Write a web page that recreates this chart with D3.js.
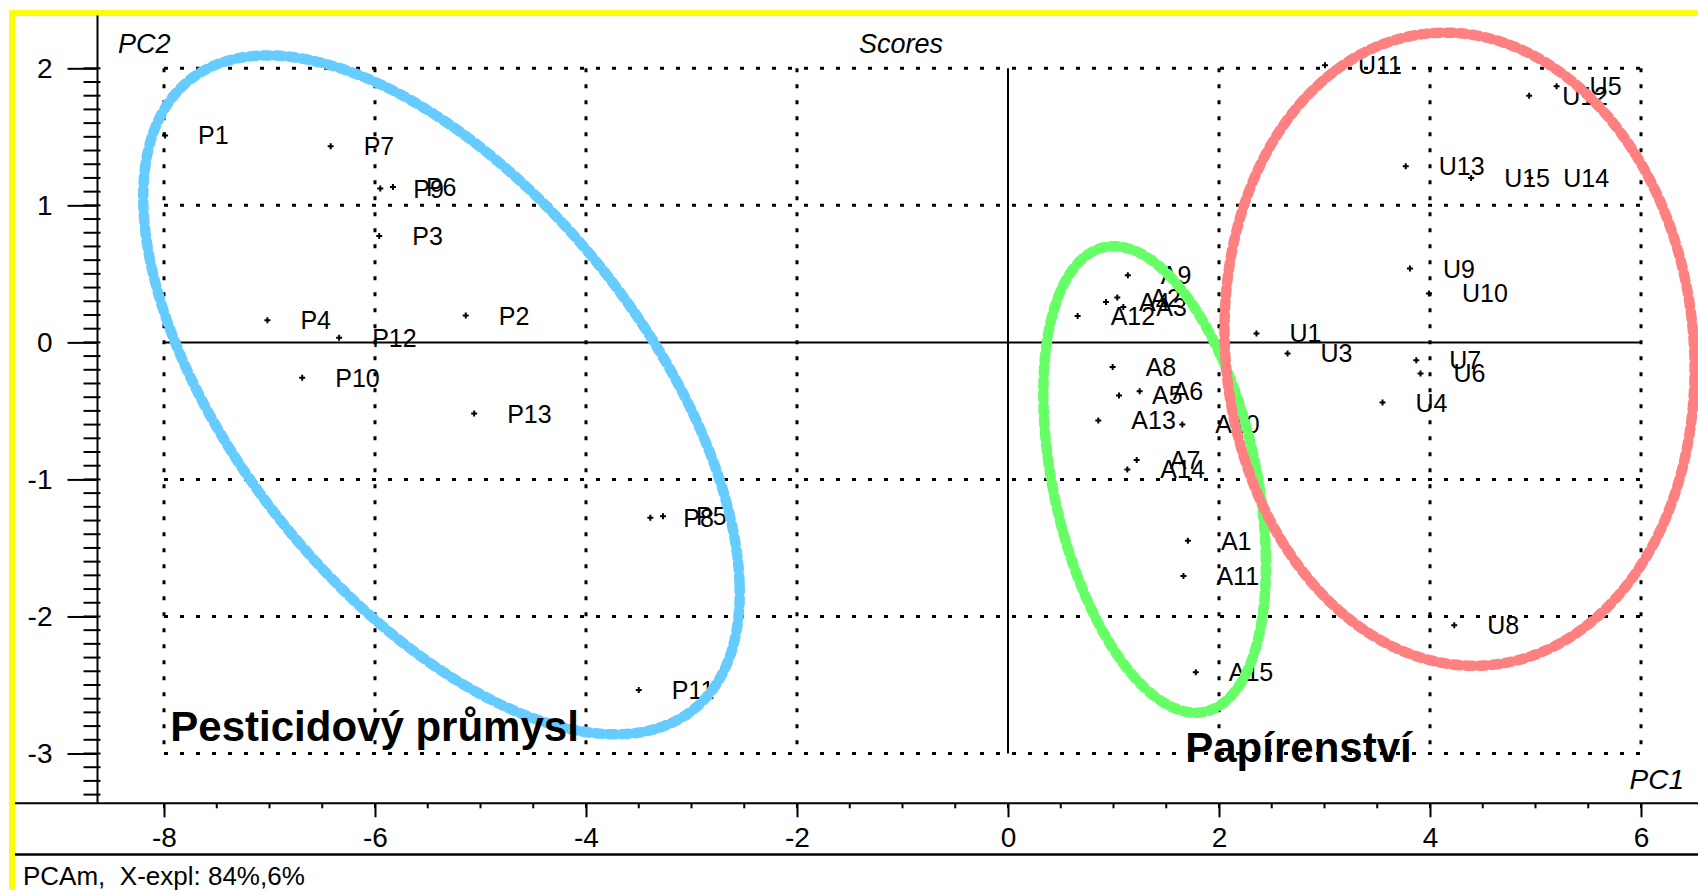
<!DOCTYPE html>
<html>
<head>
<meta charset="utf-8">
<script src="https://cdn.jsdelivr.net/npm/d3@7"></script>
<style>
  body { margin: 0; background: #fff; }
  svg { display: block; font-family: "Liberation Sans", Arial, sans-serif; }
</style>
</head>
<body>
<svg id="chart"></svg>
<script>
// PCA scores (PC1, PC2)
const pesticide = [
  { id: "P1", pc1: -7.99, pc2: 1.51 },
  { id: "P2", pc1: -5.14, pc2: 0.196 },
  { id: "P3", pc1: -5.96, pc2: 0.777 },
  { id: "P4", pc1: -7.02, pc2: 0.162 },
  { id: "P5", pc1: -3.27, pc2: -1.268 },
  { id: "P6", pc1: -5.83, pc2: 1.134 },
  { id: "P7", pc1: -6.42, pc2: 1.431 },
  { id: "P8", pc1: -3.39, pc2: -1.28 },
  { id: "P9", pc1: -5.95, pc2: 1.122 },
  { id: "P10", pc1: -6.69, pc2: -0.259 },
  { id: "P11", pc1: -3.50, pc2: -2.537 },
  { id: "P12", pc1: -6.34, pc2: 0.033 },
  { id: "P13", pc1: -5.06, pc2: -0.519 }
];
const paper = [
  { id: "A1", pc1: 1.705, pc2: -1.448 },
  { id: "A2", pc1: 1.036, pc2: 0.327 },
  { id: "A3", pc1: 1.093, pc2: 0.259 },
  { id: "A4", pc1: 0.929, pc2: 0.295 },
  { id: "A5", pc1: 1.052, pc2: -0.387 },
  { id: "A6", pc1: 1.248, pc2: -0.356 },
  { id: "A7", pc1: 1.22, pc2: -0.859 },
  { id: "A8", pc1: 0.992, pc2: -0.179 },
  { id: "A9", pc1: 1.136, pc2: 0.49 },
  { id: "A10", pc1: 1.652, pc2: -0.599 },
  { id: "A11", pc1: 1.663, pc2: -1.705 },
  { id: "A12", pc1: 0.66, pc2: 0.193 },
  { id: "A13", pc1: 0.856, pc2: -0.57 },
  { id: "A14", pc1: 1.131, pc2: -0.927 },
  { id: "A15", pc1: 1.78, pc2: -2.408 }
];
const other = [
  { id: "U1", pc1: 2.355, pc2: 0.065 },
  { id: "U3", pc1: 2.65, pc2: -0.081 },
  { id: "U4", pc1: 3.55, pc2: -0.439 },
  { id: "U5", pc1: 5.20, pc2: 1.869 },
  { id: "U6", pc1: 3.91, pc2: -0.227 },
  { id: "U7", pc1: 3.87, pc2: -0.13 },
  { id: "U8", pc1: 4.23, pc2: -2.065 },
  { id: "U9", pc1: 3.81, pc2: 0.539 },
  { id: "U10", pc1: 3.99, pc2: 0.357 },
  { id: "U11", pc1: 3.005, pc2: 2.022 },
  { id: "U12", pc1: 4.94, pc2: 1.80 },
  { id: "U13", pc1: 3.77, pc2: 1.285 },
  { id: "U14", pc1: 4.95, pc2: 1.20 },
  { id: "U15", pc1: 4.39, pc2: 1.20 }
];

// group ellipses: centre, spread in x / y and covariance term (score units)
const groupEllipses = [
  { group: "P", cx: -5.37, cy: -0.383, sx: 2.827, sy: 2.477, cov: -4.08 },
  { group: "A", cx: 1.39, cy: -1.0, sx: 1.055, sy: 1.702, cov: -0.66 },
  { group: "U", cx: 4.28, cy: -0.05, sx: 2.228, sy: 2.31, cov: -0.32 }
];

const xTicks = [-8, -6, -4, -2, 0, 2, 4, 6];
const yTicks = [-3, -2, -1, 0, 1, 2];
const groupLabels = [
  { text: "Pesticidový průmysl", pc1: -7.94, pc2: -2.91 },
  { text: "Papírenství", pc1: 1.68, pc2: -3.06 }
];

const width = 1698, height = 890;
const colors = { P: "#66ccff", A: "#66ff66", U: "#ff8080" };

const svg = d3.select("#chart")
  .attr("width", width)
  .attr("height", height)
  .attr("viewBox", [0, 0, width, height]);

svg.append("rect").attr("width", width).attr("height", height).attr("fill", "#fff");

// yellow frame (only top / left visible)
svg.append("rect")
  .attr("x", 12).attr("y", 13)
  .attr("width", width + 40).attr("height", height + 40)
  .attr("fill", "none").attr("stroke", "#ffff00").attr("stroke-width", 6);

let x = d3.scaleLinear().domain([-8, 6]).range([164, 1641]);
let y = d3.scaleLinear().domain([-3, 2]).range([753.5, 68.3]);

const axisX = 97.5, axisY = 803.3;

// dotted grid
let grid = svg.append("g")
  .attr("stroke", "#000")
  .attr("stroke-width", 3)
  .attr("stroke-dasharray", "4 12");
grid.selectAll(".gh")
  .data(yTicks.filter(d => d !== 0))
  .join("line")
  .attr("x1", x(-8)).attr("x2", x(6))
  .attr("y1", d => y(d)).attr("y2", d => y(d));
grid.selectAll(".gv")
  .data(xTicks.filter(d => d !== 0))
  .join("line")
  .attr("x1", d => x(d)).attr("x2", d => x(d))
  .attr("y1", y(2)).attr("y2", y(-3));

// zero lines
svg.append("line")
  .attr("x1", x(-8)).attr("x2", x(6))
  .attr("y1", y(0)).attr("y2", y(0))
  .attr("stroke", "#000").attr("stroke-width", 2);
svg.append("line")
  .attr("x1", x(0)).attr("x2", x(0))
  .attr("y1", y(2)).attr("y2", y(-3))
  .attr("stroke", "#000").attr("stroke-width", 2);

// y axis
let yAxis = g => g
  .attr("transform", `translate(${axisX},0)`)
  .call(d3.axisLeft(y).tickValues(yTicks).tickSize(30).tickPadding(15).tickFormat(d => String(d)))
  .call(g => g.select(".domain").remove())
  .call(g => g.selectAll(".tick line").attr("stroke-width", 2))
  .call(g => g.selectAll(".tick text")
    .attr("font-size", 28)
    .attr("font-family", "Liberation Sans, Arial, sans-serif"));
svg.append("g").call(yAxis);

svg.append("g")
  .selectAll("line")
  .data(d3.range(-33, 21).map(i => i / 10))
  .join("line")
  .attr("x1", axisX - 14).attr("x2", axisX + 3)
  .attr("y1", d => y(d)).attr("y2", d => y(d))
  .attr("stroke", "#000").attr("stroke-width", 2);

svg.append("line")
  .attr("x1", axisX).attr("x2", axisX)
  .attr("y1", 15.5).attr("y2", axisY)
  .attr("stroke", "#000").attr("stroke-width", 2);

// x axis
let xAxis = g => g
  .attr("transform", `translate(0,${axisY})`)
  .call(d3.axisBottom(x).tickValues(xTicks).tickSize(14).tickPadding(10).tickFormat(d => String(d)))
  .call(g => g.select(".domain").remove())
  .call(g => g.selectAll(".tick line").attr("stroke-width", 2))
  .call(g => g.selectAll(".tick text")
    .attr("font-size", 28)
    .attr("font-family", "Liberation Sans, Arial, sans-serif"));
svg.append("g").call(xAxis);

svg.append("g")
  .selectAll("line")
  .data(d3.range(-16, 13).map(i => i / 2))
  .join("line")
  .attr("x1", d => x(d)).attr("x2", d => x(d))
  .attr("y1", axisY).attr("y2", axisY + 5)
  .attr("stroke", "#000").attr("stroke-width", 2);

svg.append("line")
  .attr("x1", 15).attr("x2", width)
  .attr("y1", axisY).attr("y2", axisY)
  .attr("stroke", "#000").attr("stroke-width", 2);
svg.append("line")
  .attr("x1", 15).attr("x2", width)
  .attr("y1", 854.5).attr("y2", 854.5)
  .attr("stroke", "#000").attr("stroke-width", 2.5);

// titles
svg.append("text")
  .attr("x", 118).attr("y", 53)
  .attr("font-size", 27).attr("font-style", "italic")
  .text("PC2");
svg.append("text")
  .attr("x", 901).attr("y", 53)
  .attr("text-anchor", "middle")
  .attr("font-size", 27).attr("font-style", "italic")
  .text("Scores");
svg.append("text")
  .attr("x", 1684).attr("y", 789)
  .attr("text-anchor", "end")
  .attr("font-size", 28).attr("font-style", "italic")
  .text("PC1");
svg.append("text")
  .attr("x", 23).attr("y", 885)
  .attr("font-size", 26)
  .attr("xml:space", "preserve")
  .style("white-space", "pre")
  .text("PCAm,  X-expl: 84%,6%");

// points + labels
const allPoints = pesticide.concat(paper, other);
let pts = svg.append("g");
pts.selectAll("path")
  .data(allPoints)
  .join("path")
  .attr("d", d => `M${x(d.pc1) - 3},${y(d.pc2)}h6M${x(d.pc1)},${y(d.pc2) - 3}v6`)
  .attr("stroke", "#000").attr("stroke-width", 2);
pts.selectAll("text")
  .data(allPoints)
  .join("text")
  .attr("x", d => x(d.pc1) + 33)
  .attr("y", d => y(d.pc2))
  .attr("dy", "0.36em")
  .attr("font-size", 25)
  .text(d => d.id);

// confidence ellipses
const ellipsePoints = e => {
  let k = e.cov / e.sx;
  let m = Math.sqrt(e.sy * e.sy - k * k);
  return d3.range(0, 361, 2).map(deg => {
    let t = deg * Math.PI / 180;
    return [e.cx + e.sx * Math.cos(t), e.cy + k * Math.cos(t) + m * Math.sin(t)];
  });
};
let line = d3.line().x(p => x(p[0])).y(p => y(p[1])).curve(d3.curveCardinalClosed);
svg.append("g")
  .selectAll("path")
  .data(groupEllipses)
  .join("path")
  .attr("d", e => line(ellipsePoints(e).slice(0, -1)))
  .attr("fill", "none")
  .attr("stroke", e => colors[e.group])
  .attr("stroke-width", 10.5)
  .attr("stroke-linecap", "round")
  .attr("stroke-dasharray", "7 6");

// group names
svg.append("g")
  .selectAll("text")
  .data(groupLabels)
  .join("text")
  .attr("x", d => x(d.pc1))
  .attr("y", d => y(d.pc2))
  .attr("font-size", 42)
  .attr("font-weight", "bold")
  .text(d => d.text);
</script>
</body>
</html>
